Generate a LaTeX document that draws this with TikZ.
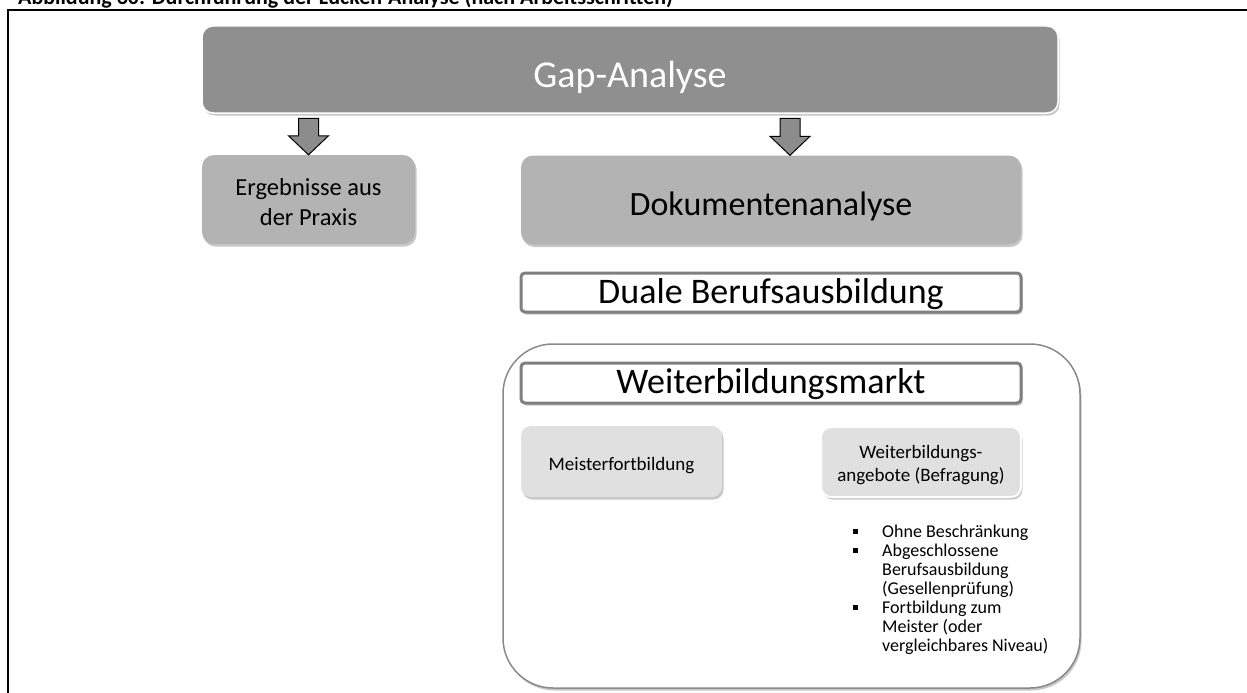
\documentclass[tikz,border=0pt]{standalone}
\usepackage{fontspec}
\setmainfont{Carlito}
\usetikzlibrary{shadows}
\definecolor{gapgray}{HTML}{8F8F8F}
\definecolor{midgray}{HTML}{B3B3B3}
\definecolor{lightgray}{HTML}{E0E0E0}
\definecolor{arrowgray}{HTML}{8C8C8C}
\definecolor{framegray}{HTML}{7F7F7F}
\definecolor{contgray}{HTML}{8A8A8A}
\tikzset{
  softshadow/.style={drop shadow={shadow xshift=1.5pt,shadow yshift=-2.5pt,opacity=0.22,fill=black}},
  gapbox/.style={draw=white,line width=1.5pt,fill=gapgray,rounded corners=11pt,softshadow,inner sep=0pt},
  midbox/.style={fill=midgray,rounded corners=12pt,softshadow,inner sep=0pt},
  lightbox/.style={fill=lightgray,rounded corners=10pt,softshadow,inner sep=0pt},
  barbox/.style={draw=framegray,line width=3pt,fill=white,rounded corners=4pt,inner sep=0pt,softshadow},
  container/.style={draw=contgray,line width=1.5pt,fill=white,rounded corners=50pt,inner sep=0pt,softshadow},
  blockarrow/.style={draw=black,line width=1pt,fill=arrowgray,line join=miter},
  txt/.style={anchor=base,inner sep=0pt},
}
\newcommand{\bul}{\llap{\raisebox{3.5pt}{\rule{5pt}{5pt}}\hspace{24.5pt}}}
\begin{document}
\begin{tikzpicture}[x=1pt,y=-1pt]
\useasboundingbox (0,0) rectangle (1247,693);
\clip (0,0) rectangle (1247,693);
% caption (cut off at top, as in the reference)
\node[anchor=base west,inner sep=0pt,font=\bfseries\fontsize{22}{26}\selectfont] (cap) at (18,5)
  {Abbildung 30: Durchführung der Lücken-Analyse (nach Arbeitsschritten)};
% frame
\draw[line width=2.2pt] (8,700) -- (8,10) -- (1260,10);
% boxes
\node[gapbox,minimum width=856pt,minimum height=87pt] (gap) at (630,69.5) {};
\node[txt,text=white,font=\fontsize{38}{46}\selectfont] (gaptext) at (630,87) {Gap-Analyse};
\node[midbox,minimum width=213pt,minimum height=89pt] (erg) at (308.5,199.5) {};
\node[txt,font=\fontsize{24.5}{30}\selectfont] (ergtext1) at (308.5,195) {Ergebnisse aus};
\node[txt,font=\fontsize{24.5}{30}\selectfont] (ergtext2) at (308.5,225) {der Praxis};
\node[midbox,minimum width=500pt,minimum height=89pt] (dok) at (771,200) {};
\node[txt,font=\fontsize{34}{40}\selectfont] (doktext) at (771,215) {Dokumentenanalyse};
\node[barbox,minimum width=500pt,minimum height=39pt] (duale) at (771,292.5) {};
\node[txt,font=\fontsize{36}{42}\selectfont] (dualetext) at (771,303.5) {Duale Berufsausbildung};
\node[container,minimum width=577pt,minimum height=344pt] (cont) at (791.5,516) {};
\node[barbox,minimum width=500pt,minimum height=40pt] (weiter) at (771,383) {};
\node[txt,font=\fontsize{36}{42}\selectfont] (weitertext) at (771,393.5) {Weiterbildungsmarkt};
\node[lightbox,minimum width=201pt,minimum height=71pt] (meister) at (621.5,461.5) {};
\node[txt,font=\fontsize{19}{22}\selectfont] (meistertext) at (621.5,470) {Meisterfortbildung};
\node[lightbox,draw=white,line width=2pt,minimum width=200pt,minimum height=70pt] (angebote) at (921,462) {};
\node[txt,font=\fontsize{19}{23}\selectfont] (angtext1) at (921,458) {Weiterbildungs-};
\node[txt,font=\fontsize{19}{23}\selectfont] (angtext2) at (921,481) {angebote (Befragung)};
\node[anchor=north west,inner sep=0pt,align=left,font=\fontsize{18}{19}\selectfont] (list) at (882,524.5)
  {\bul Ohne Beschränkung\\
   \bul Abgeschlossene\\
   Berufsausbildung\\
   (Gesellenprüfung)\\
   \bul Fortbildung zum\\
   Meister (oder\\
   vergleichbares Niveau)};
% block arrows
\path (erg.north) coordinate (a1tip);
\path (dok.north) ++(19,0) coordinate (a2tip);
\foreach \nm in {a1,a2}{
  \path (gap.south -| \nm tip) ++(0,4.5) coordinate (\nm top);
  \path (\nm tip) ++(0,-19) coordinate (\nm neck);
  \draw[blockarrow] ([xshift=-10pt]\nm top) -- ([xshift=10pt]\nm top) -- ([xshift=10pt]\nm neck)
    -- ([xshift=20pt]\nm neck) -- (\nm tip) -- ([xshift=-20pt]\nm neck) -- ([xshift=-10pt]\nm neck) -- cycle;
}
\end{tikzpicture}
\end{document}
